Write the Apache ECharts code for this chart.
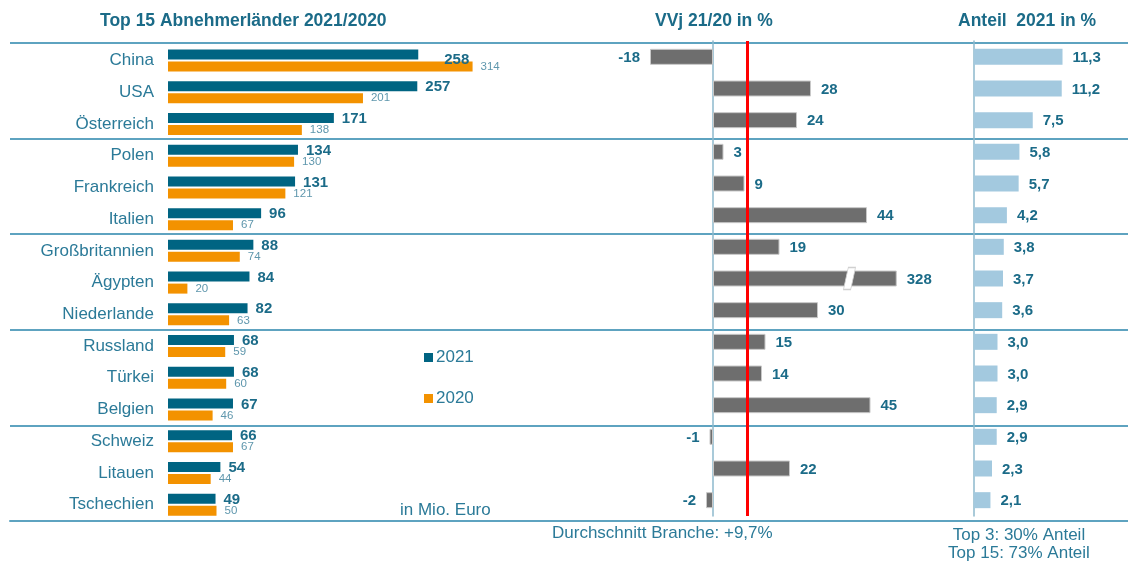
<!DOCTYPE html>
<html>
<head>
<meta charset="utf-8">
<script src="https://cdn.jsdelivr.net/npm/echarts@6/dist/echarts.min.js"></script>
<style>
html,body{margin:0;padding:0;background:#fff;}
#main{width:1128px;height:562px;}
</style>
</head>
<body>
<div id="main"></div>
<script>
// ---- data ----
var countries = ['China','USA','Österreich','Polen','Frankreich','Italien','Großbritannien','Ägypten','Niederlande','Russland','Türkei','Belgien','Schweiz','Litauen','Tschechien'];
var v2021 = [258,257,171,134,131,96,88,84,82,68,68,67,66,54,49];
var v2020 = [314,201,138,130,121,67,74,20,63,59,60,46,67,44,50];
var vvj = [-18,28,24,3,9,44,19,328,30,15,14,45,-1,22,-2];
var share = [11.3,11.2,7.5,5.8,5.7,4.2,3.8,3.7,3.6,3.0,3.0,2.9,2.9,2.3,2.1];
var branchAverage = 9.7;
var vvjCap = 52.5;      // displayed length of the broken (cut) bar
var vvjBreakAt = 39;    // where the break mark sits on the cut bar

// ---- styles ----
var TEAL = '#1b6b88';
var CAT = '#2b7a98';
var LINE = '#5ea3c0';
var FONT = 'Liberation Sans, Arial, sans-serif';

var chart = echarts.init(document.getElementById('main'), null, {renderer:'canvas'});

var d2021 = v2021.map(function(v,i){
  var it = {value:v};
  if (i === 0) it.label = {offset:[18,5]};
  return it;
});
var vvjData = vvj.map(function(v){
  return {value: Math.min(v, vvjCap), label:{position: v < 0 ? 'left' : 'right'}};
});
var cutIdx = vvj.findIndex(function(v){return v > vvjCap;});

var hiddenCat = function(gi){
  return {type:'category', gridIndex:gi, data:countries, inverse:true,
    axisLabel:{show:false}, axisTick:{show:false}, splitLine:{show:false},
    axisLine:{show:true, onZero:true, lineStyle:{color:'#8db9cc', width:1.5}}};
};
var titleStyle = {fontSize:17.5, fontWeight:'bold', color:TEAL, fontFamily:FONT};

var option = {
  animation:false,
  textStyle:{fontFamily:FONT},
  title:[
    {text:'Top 15 Abnehmerländer 2021/2020', left:100, top:12, padding:0, textStyle:titleStyle},
    {text:'VVj 21/20 in %', left:655, top:12, padding:0, textStyle:titleStyle},
    {text:'Anteil  2021 in %', left:958, top:12, padding:0, textStyle:titleStyle}
  ],
  legend:{
    data:['2021','2020'], orient:'vertical', left:424, top:349, itemGap:24,
    itemWidth:9, itemHeight:9, icon:'rect', padding:0,
    textStyle:{fontSize:17, color:CAT, fontFamily:FONT, padding:[0,0,0,-2]}
  },
  grid:[
    {left:168, top:44.6, width:388, height:476, outerBoundsMode:'none'},
    {left:573, top:41, width:350, height:475, outerBoundsMode:'none'},
    {left:974, top:41, width:141, height:475, outerBoundsMode:'none'},
    {left:10, right:0, top:43, height:478, outerBoundsMode:'none'}
  ],
  xAxis:[
    {type:'value', gridIndex:0, min:0, max:400, show:false},
    {type:'value', gridIndex:1, min:-40, max:60, show:false},
    {type:'value', gridIndex:2, min:0, max:18, show:false},
    {type:'value', gridIndex:3, min:0, max:1, axisLabel:{show:false}, axisTick:{show:false},
     splitLine:{show:false}, axisLine:{show:true, lineStyle:{color:LINE, width:2}}}
  ],
  yAxis:[
    {type:'category', gridIndex:0, data:countries, inverse:true,
     axisLine:{show:false}, axisTick:{show:false}, splitLine:{show:false},
     axisLabel:{fontSize:17, color:CAT, margin:14, fontFamily:FONT}},
    hiddenCat(1),
    hiddenCat(2),
    {type:'category', gridIndex:3, data:countries, inverse:true,
     axisLabel:{show:false}, axisTick:{show:false}, axisLine:{show:false},
     splitLine:{show:true, interval:2, lineStyle:{color:LINE, width:2}}}
  ],
  graphic:[
    {type:'text', left:400, top:502, style:{text:'in Mio. Euro', fontSize:17, fill:CAT, fontFamily:FONT}},
    {type:'text', left:552, top:525, style:{text:'Durchschnitt Branche: +9,7%', fontSize:17, fill:CAT, fontFamily:FONT}},
    {type:'text', x:1019, y:526, style:{text:'Top 3: 30% Anteil\nTop 15: 73% Anteil', fontSize:17, lineHeight:18.5, align:'center', fill:CAT, fontFamily:FONT}}
  ],
  series:[
    {name:'2021', type:'bar', xAxisIndex:0, yAxisIndex:0, data:d2021, barWidth:10, barGap:'20%',
     itemStyle:{color:'#006482'},
     label:{show:true, position:'right', distance:8, offset:[0,1], fontSize:15, fontWeight:'bold', color:TEAL, fontFamily:FONT}},
    {name:'2020', type:'bar', xAxisIndex:0, yAxisIndex:0, data:v2020, barWidth:10, barGap:'20%',
     itemStyle:{color:'#f39200'},
     label:{show:true, position:'right', distance:8, fontSize:11.5, color:'#5f97ad', fontFamily:FONT}},
    {name:'VVj', type:'bar', xAxisIndex:1, yAxisIndex:1, data:vvjData, barWidth:16,
     itemStyle:{color:'#6e6e6e', borderColor:'#c8c8c8', borderWidth:1},
     label:{show:true, distance:10, offset:[0,1], fontSize:15, fontWeight:'bold', color:TEAL, fontFamily:FONT,
       formatter:function(p){return String(vvj[p.dataIndex]);}},
     markLine:{silent:true, symbol:'none', label:{show:false},
       lineStyle:{color:'#ff0000', width:3, type:'solid'},
       data:[{xAxis:branchAverage}]},
     markPoint:{silent:true, label:{show:false},
       symbol:'path://M4,0 L10,0 L6,24 L0,24 Z', symbolSize:[12,22], symbolKeepAspect:false,
       itemStyle:{color:'#ffffff', borderColor:'#d0d0d0', borderWidth:1},
       data: cutIdx >= 0 ? [{coord:[vvjBreakAt, countries[cutIdx]]}] : []}
    },
    {name:'Anteil', type:'bar', xAxisIndex:2, yAxisIndex:2, data:share, barWidth:16,
     itemStyle:{color:'#a3c9df'},
     label:{show:true, position:'right', distance:10, offset:[0,1], fontSize:15, fontWeight:'bold', color:TEAL, fontFamily:FONT,
       formatter:function(p){return p.value.toFixed(1).replace('.', ',');}}}
  ]
};
chart.setOption(option);
</script>
</body>
</html>
